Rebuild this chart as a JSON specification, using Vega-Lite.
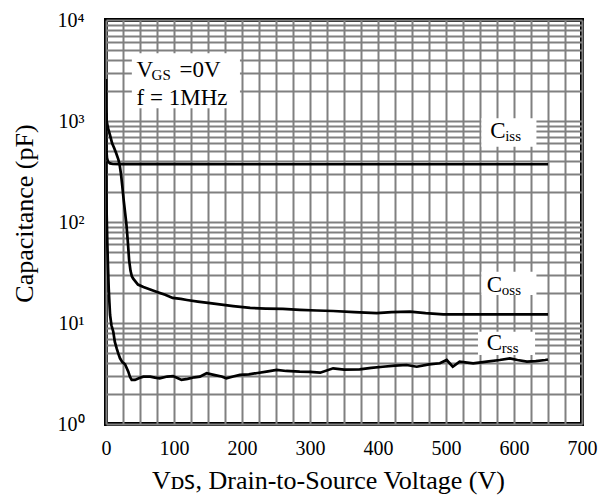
{
  "$schema": "https://vega.github.io/schema/vega-lite/v6.json",
  "width": 476,
  "height": 404,
  "autosize": {"type": "none"},
  "padding": {"left": 106, "top": 20, "right": 24, "bottom": 73},
  "background": "white",
  "config": {
    "font": "Liberation Serif",
    "view": {"stroke": "black", "strokeWidth": 4},
    "axis": {
      "labelFont": "Liberation Serif",
      "labelFontSize": 20,
      "labelColor": "black",
      "titleFont": "Liberation Serif",
      "titleFontSize": 26,
      "titleFontWeight": "normal",
      "titleColor": "black",
      "grid": true,
      "gridColor": "#808080",
      "gridWidth": 2,
      "gridOpacity": 1,
      "ticks": false,
      "domain": false,
      "labelOverlap": false,
      "labelFlush": false,
      "zindex": 0
    }
  },
  "datasets": {
    "curves": [
      {"s": "Ciss", "x": 0, "y": 1200}, {"s": "Ciss", "x": 0.3, "y": 700}, {"s": "Ciss", "x": 0.7, "y": 500}, {"s": "Ciss", "x": 1.5, "y": 430}, {"s": "Ciss", "x": 3, "y": 395}, {"s": "Ciss", "x": 6, "y": 380}, {"s": "Ciss", "x": 10, "y": 375}, {"s": "Ciss", "x": 20, "y": 374}, {"s": "Ciss", "x": 100, "y": 374}, {"s": "Ciss", "x": 200, "y": 373}, {"s": "Ciss", "x": 300, "y": 373}, {"s": "Ciss", "x": 400, "y": 373}, {"s": "Ciss", "x": 500, "y": 373}, {"s": "Ciss", "x": 600, "y": 373}, {"s": "Ciss", "x": 650, "y": 373},
      {"s": "Coss", "x": 0, "y": 2600}, {"s": "Coss", "x": 0.3, "y": 1400}, {"s": "Coss", "x": 1, "y": 1000}, {"s": "Coss", "x": 3, "y": 850}, {"s": "Coss", "x": 6, "y": 720}, {"s": "Coss", "x": 9, "y": 600}, {"s": "Coss", "x": 12, "y": 540}, {"s": "Coss", "x": 15, "y": 480}, {"s": "Coss", "x": 18, "y": 420}, {"s": "Coss", "x": 20, "y": 370}, {"s": "Coss", "x": 22, "y": 300}, {"s": "Coss", "x": 24, "y": 225}, {"s": "Coss", "x": 26, "y": 165}, {"s": "Coss", "x": 28, "y": 125}, {"s": "Coss", "x": 30, "y": 95}, {"s": "Coss", "x": 32, "y": 65}, {"s": "Coss", "x": 34, "y": 42}, {"s": "Coss", "x": 36, "y": 33}, {"s": "Coss", "x": 38, "y": 29}, {"s": "Coss", "x": 40, "y": 27.5}, {"s": "Coss", "x": 47, "y": 24}, {"s": "Coss", "x": 55, "y": 22.7}, {"s": "Coss", "x": 65, "y": 21.5}, {"s": "Coss", "x": 75, "y": 20.3}, {"s": "Coss", "x": 87, "y": 19}, {"s": "Coss", "x": 98, "y": 17.7}, {"s": "Coss", "x": 110, "y": 17.3}, {"s": "Coss", "x": 119, "y": 16.9}, {"s": "Coss", "x": 135, "y": 16.3}, {"s": "Coss", "x": 150, "y": 15.8}, {"s": "Coss", "x": 170, "y": 15.2}, {"s": "Coss", "x": 187, "y": 14.7}, {"s": "Coss", "x": 212, "y": 14.1}, {"s": "Coss", "x": 235, "y": 13.9}, {"s": "Coss", "x": 260, "y": 13.8}, {"s": "Coss", "x": 285, "y": 13.5}, {"s": "Coss", "x": 310, "y": 13.3}, {"s": "Coss", "x": 334, "y": 13.15}, {"s": "Coss", "x": 365, "y": 12.8}, {"s": "Coss", "x": 398, "y": 12.5}, {"s": "Coss", "x": 420, "y": 12.8}, {"s": "Coss", "x": 447, "y": 12.96}, {"s": "Coss", "x": 470, "y": 12.5}, {"s": "Coss", "x": 496, "y": 12.2}, {"s": "Coss", "x": 530, "y": 12.2}, {"s": "Coss", "x": 579, "y": 12.2}, {"s": "Coss", "x": 610, "y": 12.2}, {"s": "Coss", "x": 646, "y": 12.2}, {"s": "Coss", "x": 650, "y": 12.2},
      {"s": "Crss", "x": 0, "y": 400}, {"s": "Crss", "x": 0.5, "y": 200}, {"s": "Crss", "x": 1, "y": 117}, {"s": "Crss", "x": 2, "y": 60}, {"s": "Crss", "x": 3, "y": 35}, {"s": "Crss", "x": 4, "y": 22}, {"s": "Crss", "x": 5, "y": 16}, {"s": "Crss", "x": 6, "y": 12}, {"s": "Crss", "x": 8, "y": 9.5}, {"s": "Crss", "x": 10.7, "y": 8.2}, {"s": "Crss", "x": 13, "y": 6.5}, {"s": "Crss", "x": 15.7, "y": 5.6}, {"s": "Crss", "x": 18, "y": 5.0}, {"s": "Crss", "x": 20.6, "y": 4.47}, {"s": "Crss", "x": 24, "y": 4.1}, {"s": "Crss", "x": 28, "y": 3.9}, {"s": "Crss", "x": 32.8, "y": 3.3}, {"s": "Crss", "x": 35.5, "y": 2.9}, {"s": "Crss", "x": 37.8, "y": 2.73}, {"s": "Crss", "x": 42.6, "y": 2.73}, {"s": "Crss", "x": 50, "y": 2.87}, {"s": "Crss", "x": 55, "y": 2.94}, {"s": "Crss", "x": 65, "y": 2.94}, {"s": "Crss", "x": 72, "y": 2.88}, {"s": "Crss", "x": 79, "y": 2.83}, {"s": "Crss", "x": 90, "y": 2.95}, {"s": "Crss", "x": 98.5, "y": 2.98}, {"s": "Crss", "x": 105, "y": 2.85}, {"s": "Crss", "x": 111, "y": 2.73}, {"s": "Crss", "x": 120, "y": 2.8}, {"s": "Crss", "x": 130, "y": 2.9}, {"s": "Crss", "x": 138, "y": 2.94}, {"s": "Crss", "x": 148, "y": 3.18}, {"s": "Crss", "x": 160, "y": 3.05}, {"s": "Crss", "x": 170, "y": 2.95}, {"s": "Crss", "x": 177, "y": 2.83}, {"s": "Crss", "x": 187, "y": 2.95}, {"s": "Crss", "x": 197, "y": 3.06}, {"s": "Crss", "x": 210, "y": 3.1}, {"s": "Crss", "x": 223, "y": 3.2}, {"s": "Crss", "x": 236, "y": 3.3}, {"s": "Crss", "x": 251, "y": 3.43}, {"s": "Crss", "x": 265, "y": 3.35}, {"s": "Crss", "x": 285, "y": 3.3}, {"s": "Crss", "x": 300, "y": 3.28}, {"s": "Crss", "x": 315, "y": 3.22}, {"s": "Crss", "x": 334, "y": 3.56}, {"s": "Crss", "x": 350, "y": 3.45}, {"s": "Crss", "x": 373, "y": 3.48}, {"s": "Crss", "x": 390, "y": 3.6}, {"s": "Crss", "x": 407, "y": 3.69}, {"s": "Crss", "x": 425, "y": 3.78}, {"s": "Crss", "x": 442, "y": 3.84}, {"s": "Crss", "x": 457, "y": 3.69}, {"s": "Crss", "x": 475, "y": 3.9}, {"s": "Crss", "x": 491, "y": 3.99}, {"s": "Crss", "x": 501, "y": 4.3}, {"s": "Crss", "x": 510, "y": 3.69}, {"s": "Crss", "x": 520, "y": 4.14}, {"s": "Crss", "x": 540, "y": 3.99}, {"s": "Crss", "x": 560, "y": 4.14}, {"s": "Crss", "x": 579, "y": 4.3}, {"s": "Crss", "x": 594, "y": 4.47}, {"s": "Crss", "x": 605, "y": 4.3}, {"s": "Crss", "x": 619, "y": 4.14}, {"s": "Crss", "x": 632, "y": 4.2}, {"s": "Crss", "x": 646, "y": 4.3}, {"s": "Crss", "x": 650, "y": 4.35}
    ],
    "boxes": [
      {"name": "cond", "x": 38, "x2": 197, "y": 4680, "y2": 1336},
      {"name": "Ciss", "x": 552, "x2": 633, "y": 1064, "y2": 557},
      {"name": "Coss", "x": 552, "x2": 633, "y": 32.2, "y2": 18.9},
      {"name": "Crss", "x": 547, "x2": 631, "y": 8.2, "y2": 4.82}
    ],
    "labels": [
      {"main": "V", "sub": "GS", "rest": "=0V", "x": 45, "y": 2700},
      {"main": "f = 1MHz", "sub": "", "rest": "", "x": 45, "y": 1440},
      {"main": "C", "sub": "iss", "rest": "", "x": 565, "y": 674},
      {"main": "C", "sub": "oss", "rest": "", "x": 560, "y": 20.4},
      {"main": "C", "sub": "rss", "rest": "", "x": 560, "y": 5.4}
    ]
  },
  "encoding": {
    "x": {
      "field": "x",
      "type": "quantitative",
      "scale": {"domain": [0, 700], "nice": false, "zero": false},
      "axis": {
        "values": [0, 25, 50, 75, 100, 125, 150, 175, 200, 225, 250, 275, 300, 325, 350, 375, 400, 425, 450, 475, 500, 525, 550, 575, 600, 625, 650, 675, 700],
        "labelExpr": "datum.value % 100 === 0 ? datum.label : ''",
        "labelPadding": 14,
        "title": "Vᴅꜱ, Drain-to-Source Voltage (V)",
        "titlePadding": 9,
        "titleX": 222
      }
    },
    "y": {
      "field": "y",
      "type": "quantitative",
      "scale": {"type": "log", "domain": [1, 10000], "nice": false},
      "axis": {
        "values": [1, 2, 3, 4, 5, 6, 7, 8, 9, 10, 20, 30, 40, 50, 60, 70, 80, 90, 100, 200, 300, 400, 500, 600, 700, 800, 900, 1000, 2000, 3000, 4000, 5000, 6000, 7000, 8000, 9000, 10000],
        "labelExpr": "indexof([1, 10, 100, 1000, 10000], datum.value) >= 0 ? '10' + ['⁰', '¹', '²', '³', '⁴'][round(log(datum.value) / LN10)] : ''",
        "labelPadding": 22,
        "title": "Capacitance (pF)",
        "titlePadding": 20,
        "titleY": 193
      }
    }
  },
  "layer": [
    {
      "data": {"name": "boxes"},
      "mark": {"type": "rect", "fill": "white", "strokeWidth": 0},
      "encoding": {"x2": {"field": "x2"}, "y2": {"field": "y2"}}
    },
    {
      "data": {"name": "curves"},
      "mark": {"type": "line", "color": "black", "strokeWidth": 2.7, "clip": true},
      "encoding": {"detail": {"field": "s"}}
    },
    {
      "data": {"name": "labels"},
      "mark": {"type": "text", "align": "left", "baseline": "alphabetic", "fontSize": 23, "font": "Liberation Serif", "color": "black"},
      "encoding": {"text": {"field": "main"}}
    },
    {
      "data": {"name": "labels"},
      "mark": {"type": "text", "align": "left", "baseline": "alphabetic", "fontSize": 15, "dx": 15, "dy": 3, "font": "Liberation Serif", "color": "black"},
      "encoding": {"text": {"field": "sub"}}
    },
    {
      "data": {"name": "labels"},
      "mark": {"type": "text", "align": "left", "baseline": "alphabetic", "fontSize": 23, "dx": 43, "font": "Liberation Serif", "color": "black"},
      "encoding": {"text": {"field": "rest"}}
    }
  ]
}
